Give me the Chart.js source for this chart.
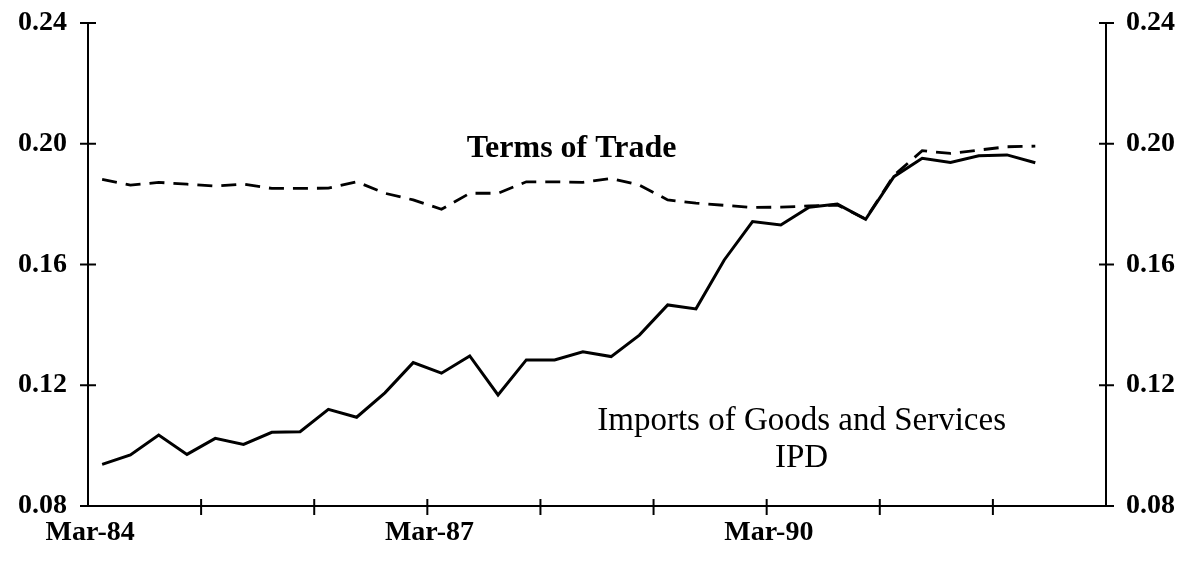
<!DOCTYPE html>
<html>
<head>
<meta charset="utf-8">
<script src="https://cdn.jsdelivr.net/npm/chart.js@4/dist/chart.umd.min.js"></script>
<style>
  html, body { margin: 0; padding: 0; background: #fff; }
  #chart { display: block; }
</style>
</head>
<body>
<canvas id="chart" width="1194" height="566"></canvas>
<script>
// Quarterly categories (Mar-84 .. Dec-92)
const quarters = [
  'Mar-84','Jun-84','Sep-84','Dec-84','Mar-85','Jun-85','Sep-85','Dec-85',
  'Mar-86','Jun-86','Sep-86','Dec-86','Mar-87','Jun-87','Sep-87','Dec-87',
  'Mar-88','Jun-88','Sep-88','Dec-88','Mar-89','Jun-89','Sep-89','Dec-89',
  'Mar-90','Jun-90','Sep-90','Dec-90','Mar-91','Jun-91','Sep-91','Dec-91',
  'Mar-92','Jun-92','Sep-92','Dec-92'
];
const shownLabels = ['Mar-84', 'Mar-87', 'Mar-90'];

// Imports of Goods and Services IPD (solid)
const imports = [
  0.0938, 0.0969, 0.1035, 0.0971, 0.1024, 0.1004, 0.1044, 0.1046,
  0.1120, 0.1094, 0.1175, 0.1275, 0.1240, 0.1297, 0.1168, 0.1284,
  0.1284, 0.1311, 0.1295, 0.1366, 0.1466, 0.1453, 0.1615, 0.1742,
  0.1731, 0.1790, 0.1800, 0.1750, 0.1891, 0.1952, 0.1938, 0.1960,
  0.1963, 0.1937
];

// Terms of Trade (dashed)
const terms = [
  0.1882, 0.1863, 0.1872, 0.1866, 0.1860, 0.1866, 0.1852, 0.1852,
  0.1853, 0.1874, 0.1836, 0.1814, 0.1783, 0.1836, 0.1836, 0.1874,
  0.1874, 0.1872, 0.1885, 0.1863, 0.1814, 0.1803, 0.1796, 0.1789,
  0.1790, 0.1794, 0.1797, 0.1751, 0.1895, 0.1977, 0.1968, 0.1979,
  0.1990, 0.1992
];

const yTicks = [0.08, 0.12, 0.16, 0.20, 0.24];

const serif = "'Liberation Serif', 'Times New Roman', serif";

// tick marks that cross the axis lines, plus the text labels
const decorations = {
  id: 'decorations',
  afterDraw(chart) {
    const ctx = chart.ctx;
    const { x, y, y2 } = chart.scales;
    ctx.save();
    ctx.strokeStyle = '#000';
    ctx.lineWidth = 2;
    const seg = (x1, y1, x2, y2_) => {
      ctx.beginPath(); ctx.moveTo(x1, y1); ctx.lineTo(x2, y2_); ctx.stroke();
    };
    yTicks.forEach(v => {
      const p1 = y.getPixelForValue(v);
      seg(y.right - 8, p1, y.right + 8, p1);
      const p2 = y2.getPixelForValue(v);
      seg(y2.left - 7, p2, y2.left + 8, p2);
    });
    const step = x.getPixelForValue(1) - x.getPixelForValue(0);
    for (let i = 4; i < quarters.length; i += 4) {
      const px = x.getPixelForValue(i) - step / 2;
      seg(px, x.top - 7, px, x.top + 9);
    }

    ctx.fillStyle = '#000';
    ctx.textAlign = 'center';
    ctx.textBaseline = 'middle';
    const area = chart.chartArea;
    const fx = f => area.left + f * (area.right - area.left);
    ctx.font = 'bold 32px ' + serif;
    ctx.fillText('Terms of Trade', fx(0.475), y.getPixelForValue(0.1985));
    ctx.font = '33px ' + serif;
    ctx.fillText('Imports of Goods and Services', fx(0.701), y.getPixelForValue(0.1082));
    ctx.fillText('IPD', fx(0.701), y.getPixelForValue(0.0959));
    ctx.restore();
  }
};

const axisFont = { family: serif, size: 28, weight: 'bold' };

const fixY = s => { s.width = 88; s.paddingTop = 0; s.paddingBottom = 0; };

new Chart(document.getElementById('chart').getContext('2d'), {
  type: 'line',
  data: {
    labels: quarters,
    datasets: [
      {
        label: 'Terms of Trade',
        data: terms,
        borderColor: '#000',
        borderWidth: 2.8,
        borderDash: [15, 9],
        pointRadius: 0,
        tension: 0,
        fill: false,
        yAxisID: 'y'
      },
      {
        label: 'Imports of Goods and Services IPD',
        data: imports,
        borderColor: '#000',
        borderWidth: 3,
        pointRadius: 0,
        tension: 0,
        fill: false,
        yAxisID: 'y'
      }
    ]
  },
  options: {
    responsive: false,
    animation: false,
    layout: { padding: { top: 23, left: 0, right: 0, bottom: 0 } },
    plugins: {
      legend: { display: false },
      tooltip: { enabled: false }
    },
    scales: {
      x: {
        offset: true,
        grid: { display: true, offset: true, drawOnChartArea: false, drawTicks: false },
        border: { display: true, color: '#000', width: 2 },
        ticks: {
          autoSkip: false,
          maxRotation: 0,
          padding: 10,
          labelOffset: -12,
          color: '#000',
          font: axisFont,
          callback: function(value) {
            const lab = this.getLabelForValue(value);
            return shownLabels.includes(lab) ? lab : '';
          }
        },
        afterFit: s => { s.height = 60; s.paddingLeft = 0; s.paddingRight = 0; }
      },
      y: {
        position: 'left',
        min: 0.08,
        max: 0.24,
        afterBuildTicks: s => { s.ticks = yTicks.map(v => ({ value: v })); },
        grid: { display: false, drawTicks: false },
        border: { display: true, color: '#000', width: 2 },
        ticks: {
          padding: 21,
          color: '#000',
          font: axisFont,
          callback: v => v.toFixed(2)
        },
        afterFit: fixY
      },
      y2: {
        position: 'right',
        min: 0.08,
        max: 0.24,
        afterBuildTicks: s => { s.ticks = yTicks.map(v => ({ value: v })); },
        grid: { display: false, drawTicks: false },
        border: { display: true, color: '#000', width: 2 },
        ticks: {
          padding: 20,
          color: '#000',
          font: axisFont,
          callback: v => v.toFixed(2)
        },
        afterFit: fixY
      }
    }
  },
  plugins: [decorations]
});
</script>
</body>
</html>
